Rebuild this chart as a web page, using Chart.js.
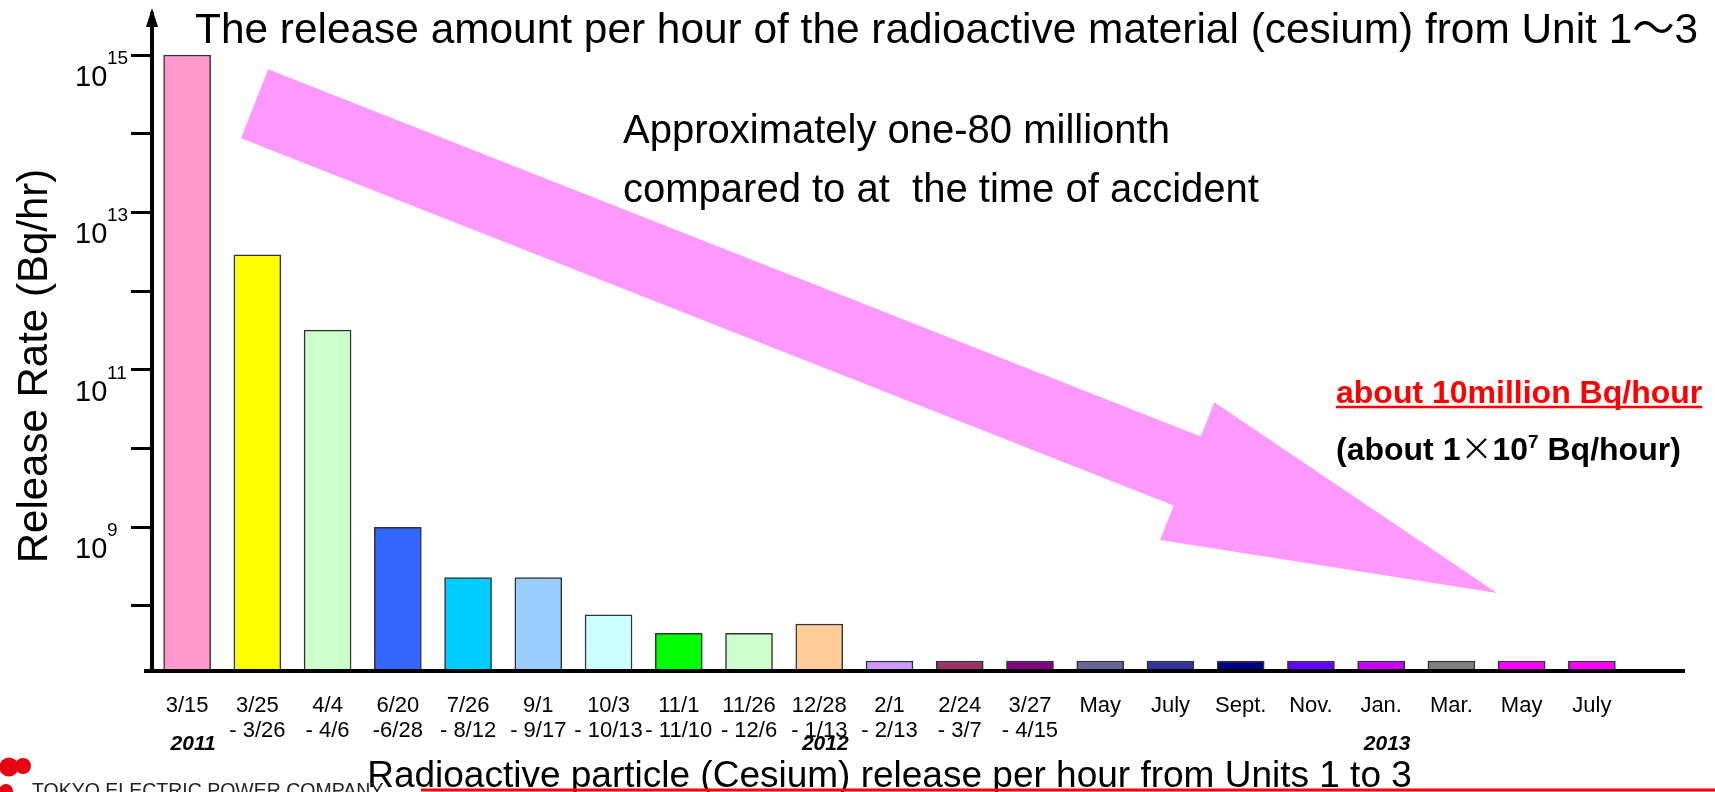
<!DOCTYPE html>
<html>
<head>
<meta charset="utf-8">
<script src="https://cdn.jsdelivr.net/npm/chart.js@4.4.0/dist/chart.umd.min.js"></script>
<style>
  html, body { margin: 0; padding: 0; background: #fff; }
  #wrap { width: 1715px; height: 792px; position: relative; }
</style>
</head>
<body>
<div id="wrap"><canvas id="release_rate"></canvas></div>
<script>
// periods on the x axis (two lines where the period is a range)
const periods = [
    '3/15', ['3/25', '- 3/26'], ['4/4', '- 4/6'], ['6/20', '-6/28'], ['7/26', '- 8/12'],
    ['9/1', '- 9/17'], ['10/3', '- 10/13'], ['11/1', '- 11/10'], ['11/26', '- 12/6'], ['12/28', '- 1/13'],
    ['2/1', '- 2/13'], ['2/24', '- 3/7'], ['3/27', '- 4/15'],
    'May', 'July', 'Sept.', 'Nov.', 'Jan.', 'Mar.', 'May', 'July'
];

// release rate (Bq/hr)
const releaseRate = [
    1e15, 2.9e12, 3.2e11, 1e9, 2.3e8, 2.3e8, 7.7e7, 4.5e7, 4.5e7, 5.9e7,
    2e7, 2e7, 2e7, 2e7, 2e7, 2e7, 2e7, 2e7, 2e7, 2e7, 2e7
];

const barColors = [
    '#FF99CC', '#FFFF00', '#CCFFCC', '#3366FF', '#00CCFF', '#99CCFF', '#CCFFFF',
    '#00FF00', '#CCFFCC', '#FFCC99', '#CC99FF', '#993366', '#800080', '#666699',
    '#333399', '#000080', '#6600FF', '#CC00FF', '#808080', '#FF00FF', '#FF00FF'
];

// year markers under the labels: text and the category they sit under
const yearLabels = ['2011', '2012', '2013'];
const yearAt = [0, 9, 17];

// powers of ten with a tick mark, and those that get a label
const yTickExps = [8, 9, 10, 11, 12, 13, 14, 15];
const yLabelExps = [9, 11, 13, 15];

// big trend arrow: from (category index, value) to (category index, value)
const arrowFrom = [0.96, 2.4e14];
const arrowTo = [18.65, 1.46e8];

const titleText = 'The release amount per hour of the radioactive material (cesium) from Unit 1\uFF5E3';
const noteLine1 = 'Approximately one-80 millionth';
const noteLine2 = 'compared to at  the time of accident';
const xTitle = 'Radioactive particle (Cesium) release per hour from Units 1 to 3';
const yTitle = 'Release Rate (Bq/hr)';

const F = "'Liberation Sans', Arial, 'Noto Sans CJK JP', sans-serif";
Chart.defaults.font.family = F;

const extras = {
    id: 'extras',
    beforeDatasetsDraw(chart) {
        const {ctx, scales: {x: xs, y: ys}} = chart;
        // pink arrow
        const tx = xs.getPixelForValue(arrowFrom[0]), ty = ys.getPixelForValue(arrowFrom[1]);
        const px = xs.getPixelForValue(arrowTo[0]), py = ys.getPixelForValue(arrowTo[1]);
        const dx = px - tx, dy = py - ty, len = Math.hypot(dx, dy);
        const ux = dx / len, uy = dy / len, nx = -uy, ny = ux;
        const w = 37, hw = 74, headLen = 333;
        const hx = px - ux * headLen, hy = py - uy * headLen;
        ctx.save();
        ctx.fillStyle = '#FF99FF';
        ctx.beginPath();
        ctx.moveTo(tx - nx * w, ty - ny * w);
        ctx.lineTo(hx - nx * w, hy - ny * w);
        ctx.lineTo(hx - nx * hw, hy - ny * hw);
        ctx.lineTo(px, py);
        ctx.lineTo(hx + nx * hw, hy + ny * hw);
        ctx.lineTo(hx + nx * w, hy + ny * w);
        ctx.lineTo(tx + nx * w, ty + ny * w);
        ctx.closePath();
        ctx.fill();
        ctx.restore();
    },
    afterDraw(chart) {
        const {ctx, chartArea: ca, scales: {x: xs, y: ys}} = chart;
        ctx.save();

        // axis line extension and arrow head on y
        ctx.strokeStyle = '#000';
        ctx.fillStyle = '#000';
        ctx.lineWidth = 4;
        ctx.beginPath();
        ctx.moveTo(ca.left - 8, ca.bottom);
        ctx.lineTo(ca.right + 58, ca.bottom);
        ctx.stroke();
        ctx.beginPath();
        ctx.moveTo(ca.left, ca.top - 6);
        ctx.lineTo(ca.left - 6, ca.top + 13);
        ctx.lineTo(ca.left + 6, ca.top + 13);
        ctx.closePath();
        ctx.fill();

        // y tick labels 10^n
        ctx.textAlign = 'left';
        ctx.textBaseline = 'alphabetic';
        ys.ticks.forEach(t => {
            const e = Math.round(Math.log10(t.value));
            if (!yLabelExps.includes(e)) return;
            const yy = ys.getPixelForValue(t.value);
            ctx.font = '29px ' + F;
            ctx.fillText('10', ys.right - 77, yy + 31);
            ctx.font = '19px ' + F;
            ctx.fillText(String(e), ys.right - 45, yy + 9);
        });

        // y title
        ctx.save();
        ctx.translate(35, 366);
        ctx.rotate(-Math.PI / 2);
        ctx.textAlign = 'center';
        ctx.textBaseline = 'middle';
        ctx.font = '42px ' + F;
        ctx.fillText(yTitle, 0, 0);
        ctx.restore();

        // title and note
        ctx.font = '42.4px ' + F;
        ctx.fillText(titleText, 195, 43);
        ctx.font = '40px ' + F;
        ctx.fillText(noteLine1, 623, 143);
        ctx.fillText(noteLine2, 623, 202);

        // red / black annotation on the right
        ctx.fillStyle = '#FF0000';
        ctx.font = 'bold 32px ' + F;
        const redText = 'about 10million Bq/hour';
        ctx.fillText(redText, 1336, 403);
        const rw = ctx.measureText(redText).width;
        ctx.strokeStyle = '#FF0000';
        ctx.lineWidth = 2.5;
        ctx.beginPath();
        ctx.moveTo(1336, 407);
        ctx.lineTo(1336 + rw, 407);
        ctx.stroke();

        ctx.fillStyle = '#000';
        const runs = [
            {text: '(about 1', font: 'bold 32px ' + F, dy: 0},
            {text: '\u00D7', font: "32px 'Noto Sans CJK JP', sans-serif", dy: 0},
            {text: '10', font: 'bold 32px ' + F, dy: 0},
            {text: '7', font: 'bold 19px ' + F, dy: -12},
            {text: ' Bq/hour)', font: 'bold 32px ' + F, dy: 0}
        ];
        let rx = 1336;
        runs.forEach(r => {
            ctx.font = r.font;
            ctx.fillText(r.text, rx, 460 + r.dy);
            rx += ctx.measureText(r.text).width;
        });

        // years under the x labels
        ctx.textAlign = 'center';
        ctx.font = 'italic bold 21px ' + F;
        yearLabels.forEach((yl, i) => {
            ctx.fillText(yl, xs.getPixelForValue(yearAt[i]) + 6, 750);
        });

        // company mark, bottom left
        ctx.fillStyle = '#E60012';
        [[9, 767, 9.5], [23, 766, 8], [6, 791, 7]].forEach(c => {
            ctx.beginPath();
            ctx.arc(c[0], c[1], c[2], 0, Math.PI * 2);
            ctx.fill();
        });
        ctx.fillStyle = '#222';
        ctx.textAlign = 'left';
        ctx.font = '19.5px ' + F;
        ctx.fillText('TOKYO ELECTRIC POWER COMPANY', 32, 797);

        // red rule under the x title
        ctx.strokeStyle = '#FF0000';
        ctx.lineWidth = 3;
        ctx.beginPath();
        ctx.moveTo(421, 790);
        ctx.lineTo(1715, 790);
        ctx.stroke();

        ctx.restore();
    }
};

const chartEl = document.getElementById('release_rate');

new Chart(chartEl, {
    type: 'bar',
    data: {
        labels: periods,
        datasets: [{
            label: 'Release Rate',
            data: releaseRate,
            backgroundColor: barColors,
            borderColor: '#333',
            borderWidth: 1.5,
            barThickness: 47
        }]
    },
    options: {
        responsive: true,
        maintainAspectRatio: false,
        animation: false,
        layout: {
            padding: {left: 0, top: 14, right: 88, bottom: 0}
        },
        scales: {
            x: {
                type: 'category',
                offset: true,
                afterFit: s => { s.height = 121; },
                grid: {display: false},
                border: {display: true, color: '#000', width: 4, z: 1},
                ticks: {
                    autoSkip: false,
                    maxRotation: 0,
                    minRotation: 0,
                    padding: 14,
                    color: '#000',
                    font: {size: 22, lineHeight: 1.15}
                },
                title: {
                    display: true,
                    text: xTitle,
                    color: '#000',
                    font: {size: 37, lineHeight: 0.8},
                    padding: 0
                }
            },
            y: {
                type: 'logarithmic',
                min: Math.pow(10, 7.174),
                max: Math.pow(10, 15.521),
                bounds: 'data',
                afterBuildTicks: s => {
                    s.ticks = yTickExps.map(e => ({value: Math.pow(10, e)}));
                },
                afterFit: s => { s.width = 152; },
                ticks: {display: false},
                grid: {drawOnChartArea: false, drawTicks: true, tickLength: 21, lineWidth: 3, color: '#000'},
                border: {display: true, color: '#000', width: 4, z: 1}
            }
        },
        plugins: {
            legend: {display: false},
            tooltip: {enabled: false}
        }
    },
    plugins: [extras]
});
</script>
</body>
</html>
